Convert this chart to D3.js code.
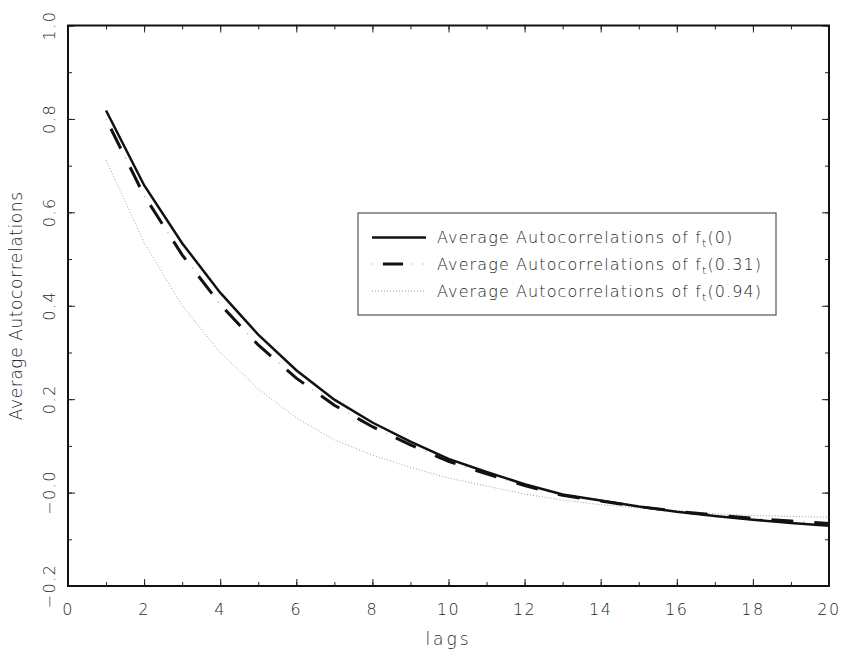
<!DOCTYPE html>
<html>
<head>
<meta charset="utf-8">
<script src="https://cdn.jsdelivr.net/npm/d3@7/dist/d3.min.js"></script>
<style>
  body { margin: 0; background: #fff; }
  text { font-family: "DejaVu Sans", sans-serif; font-weight: 200; fill: #1e1e1e; }
</style>
</head>
<body>
<svg id="chart" width="842" height="652"></svg>
<script>
'use strict';

const lags = d3.range(1, 21);
const solidVals = [0.818, 0.658, 0.534, 0.428, 0.338, 0.262, 0.199, 0.150, 0.109, 0.072,
                   0.044, 0.018, -0.004, -0.017, -0.030, -0.041, -0.050, -0.058, -0.065, -0.071];
const dashVals = [0.800, 0.636, 0.509, 0.403, 0.316, 0.245, 0.187, 0.141, 0.102, 0.067,
                  0.040, 0.015, -0.006, -0.018, -0.030, -0.040, -0.048, -0.055, -0.061, -0.066];
const dotVals = [0.712, 0.535, 0.400, 0.300, 0.222, 0.160, 0.113, 0.080, 0.054, 0.031,
                 0.014, -0.003, -0.016, -0.026, -0.033, -0.039, -0.045, -0.049, -0.051, -0.053];

const xTicks = [0, 2, 4, 6, 8, 10, 12, 14, 16, 18, 20];
const yTicks = [1.0, 0.8, 0.6, 0.4, 0.2, 0.0, -0.2];
const yTickLabels = ["1.0", "0.8", "0.6", "0.4", "0.2", "\u22120.0", "\u22120.2"];
const legendLabels = ["0", "0.31", "0.94"];

const svg = d3.select("#chart");
const plotL = 68, plotR = 829, plotT = 25.5, plotB = 586;

const x = d3.scaleLinear().domain([0, 20]).range([plotL, plotR]);
const y = d3.scaleLinear().domain([-0.2, 1.0]).range([plotB, plotT]);

// ticks on all four sides, pointing inward
const minorX = d3.range(0, 21);
const minorY = d3.range(-0.2, 1.001, 0.1);

function tickAxis(axis, pos, major, minor) {
    const g = svg.append("g").attr("transform", pos);
    g.append("g").call(axis.tickValues(minor).tickSize(-4).tickFormat(""))
        .call(s => s.select(".domain").remove());
    g.append("g").call(axis.tickValues(major).tickSize(-7).tickFormat(""))
        .call(s => s.select(".domain").remove());
    g.selectAll("line").attr("stroke", "#222").attr("stroke-width", 1);
}
tickAxis(d3.axisBottom(x), `translate(0,${plotB})`, xTicks, minorX);
tickAxis(d3.axisTop(x), `translate(0,${plotT})`, xTicks, minorX);
tickAxis(d3.axisLeft(y), `translate(${plotL},0)`, yTicks, minorY);
tickAxis(d3.axisRight(y), `translate(${plotR},0)`, yTicks, minorY);

// frame
svg.append("rect")
    .attr("x", plotL).attr("y", plotT)
    .attr("width", plotR - plotL).attr("height", plotB - plotT)
    .attr("fill", "none").attr("stroke", "#111").attr("stroke-width", 2);

// tick labels
svg.append("g").selectAll("text")
    .data(xTicks)
    .join("text")
    .attr("x", d => x(d))
    .attr("y", 615)
    .attr("text-anchor", "middle")
    .attr("font-size", 16)
    .attr("letter-spacing", 1.5)
    .text(d => d);

svg.append("g").selectAll("text")
    .data(yTicks)
    .join("text")
    .attr("transform", d => `translate(55,${y(d)}) rotate(-90)`)
    .attr("text-anchor", "middle")
    .attr("font-size", 16)
    .attr("letter-spacing", 1.5)
    .text((d, i) => yTickLabels[i]);

// axis titles
svg.append("text")
    .attr("x", x(10))
    .attr("y", 645)
    .attr("text-anchor", "middle")
    .attr("font-size", 17)
    .attr("letter-spacing", 3)
    .text("lags");

svg.append("text")
    .attr("transform", `translate(22,${y(0.4)}) rotate(-90)`)
    .attr("text-anchor", "middle")
    .attr("font-size", 17)
    .attr("letter-spacing", 0.6)
    .text("Average Autocorrelations");

// series
const line = vals => d3.line()
    .x((d, i) => x(lags[i]))
    .y(d => y(d))(vals);

svg.append("path")
    .attr("d", line(dotVals))
    .attr("fill", "none").attr("stroke", "#a0a0a0")
    .attr("stroke-width", 1).attr("stroke-dasharray", "1,2");

svg.append("path")
    .attr("d", line(dashVals))
    .attr("fill", "none").attr("stroke", "#bbb")
    .attr("stroke-width", 1.2).attr("stroke-dasharray", "1.5,41.5");
svg.append("path")
    .attr("d", line(dashVals))
    .attr("fill", "none").attr("stroke", "#111")
    .attr("stroke-width", 3).attr("stroke-dasharray", "22,21")
    .attr("stroke-dashoffset", -11);

svg.append("path")
    .attr("d", line(solidVals))
    .attr("fill", "none").attr("stroke", "#111")
    .attr("stroke-width", 2.5);

// legend
const legend = svg.append("g");
legend.append("rect")
    .attr("x", 358).attr("y", 213)
    .attr("width", 418).attr("height", 102)
    .attr("fill", "#fff").attr("stroke", "#555").attr("stroke-width", 1.2);

const rowY = [237.5, 264, 291];
legend.append("line")
    .attr("x1", 372).attr("x2", 426).attr("y1", rowY[0]).attr("y2", rowY[0])
    .attr("stroke", "#111").attr("stroke-width", 2.5);
legend.append("line")
    .attr("x1", 372).attr("x2", 426).attr("y1", rowY[1]).attr("y2", rowY[1])
    .attr("stroke", "#bbb").attr("stroke-width", 1.2).attr("stroke-dasharray", "1.5,8.5");
legend.append("line")
    .attr("x1", 383).attr("x2", 403).attr("y1", rowY[1]).attr("y2", rowY[1])
    .attr("stroke", "#fff").attr("stroke-width", 4);
legend.append("line")
    .attr("x1", 383).attr("x2", 403).attr("y1", rowY[1]).attr("y2", rowY[1])
    .attr("stroke", "#111").attr("stroke-width", 3);
legend.append("line")
    .attr("x1", 372).attr("x2", 426).attr("y1", rowY[2]).attr("y2", rowY[2])
    .attr("stroke", "#a0a0a0").attr("stroke-width", 1).attr("stroke-dasharray", "1,2");

legendLabels.forEach((lab, i) => {
    const t = legend.append("text")
        .attr("x", 437).attr("y", rowY[i] + 5.5)
        .attr("font-size", 16)
        .attr("letter-spacing", 1.1);
    t.append("tspan").text("Average Autocorrelations of f");
    t.append("tspan").attr("font-size", 11).attr("dy", 4).text("t");
    t.append("tspan").attr("dy", -4).text(`(${lab})`);
});
</script>
</body>
</html>
